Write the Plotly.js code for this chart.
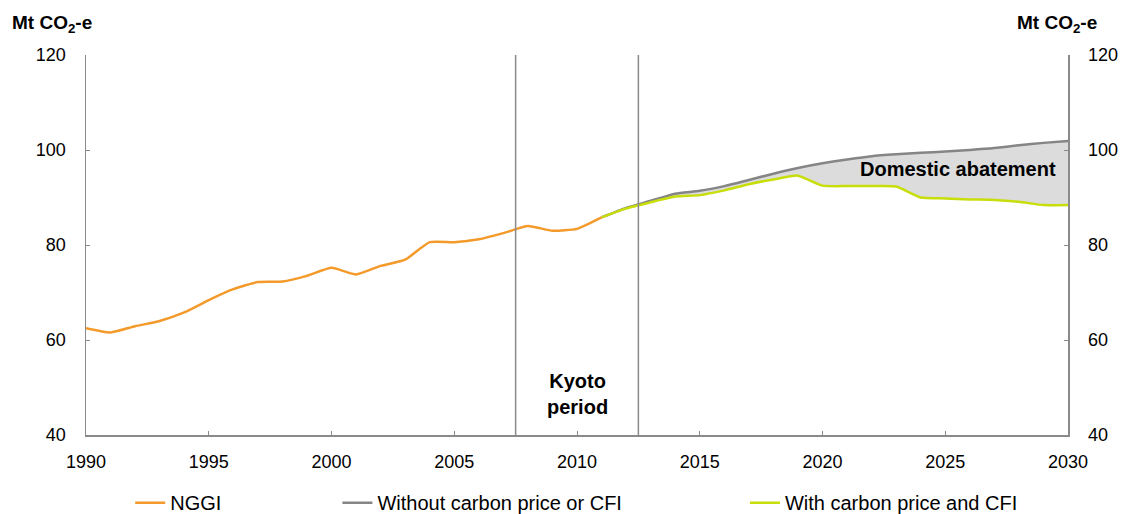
<!DOCTYPE html>
<html>
<head>
<meta charset="utf-8">
<script src="https://cdn.plot.ly/plotly-3.0.1.min.js"></script>
<style>html,body{margin:0;padding:0;background:#fff;}#chart{width:1123px;height:514px;}</style>
</head>
<body>
<div id="chart"></div>
<script>
const nggiYears = [1990,1991,1992,1993,1994,1995,1996,1997,1998,1999,2000,2001,2002,2003,2004,2005,2006,2007,2008,2009,2010,2011];
const nggiValues = [62.5,61.6,62.9,64.0,65.8,68.4,70.7,72.2,72.3,73.5,75.2,73.8,75.6,76.9,80.6,80.6,81.2,82.5,84.0,83.0,83.4,85.8];
const projYears = [2011,2012,2013,2014,2015,2016,2017,2018,2019,2020,2021,2022,2023,2024,2025,2026,2027,2028,2029,2030];
const withoutValues = [85.8,87.8,89.3,90.8,91.4,92.4,93.7,95.0,96.2,97.2,98.0,98.7,99.1,99.4,99.7,100.0,100.4,101.0,101.5,101.9];
const withValues = [85.8,87.7,89.0,90.2,90.5,91.5,92.8,93.8,94.6,92.5,92.4,92.4,92.3,90.0,89.8,89.6,89.5,89.1,88.4,88.4];
const xTicks = [1990,1995,2000,2005,2010,2015,2020,2025,2030];
const yTicks = [40,60,80,100,120];
const kyotoBounds = [2007.5, 2012.5];

const cOrange = '#F39A2B', cGrey = '#858585', cGreen = '#C8DE0A', cFill = '#DCDCDC';
const sm = 0.5;

const traces = [
  {x: projYears, y: withValues, mode:'lines', line:{width:0, color:cFill, shape:'spline', smoothing:sm}, showlegend:false, hoverinfo:'skip'},
  {x: projYears, y: withoutValues, mode:'lines', line:{width:0, color:cFill, shape:'spline', smoothing:sm}, fill:'tonexty', fillcolor:cFill, showlegend:false, hoverinfo:'skip'},
  {x: projYears, y: withoutValues, mode:'lines', name:'Without carbon price or CFI', line:{color:cGrey, width:2.5, shape:'spline', smoothing:sm}, legend:'legend2'},
  {x: projYears, y: withValues, mode:'lines', name:'With carbon price and CFI', line:{color:cGreen, width:2.5, shape:'spline', smoothing:sm}, legend:'legend3'},
  {x: nggiYears, y: nggiValues, mode:'lines', name:'NGGI', line:{color:cOrange, width:2.5, shape:'spline', smoothing:sm}, legend:'legend'},
  {x: [2030], y: [null], yaxis:'y2', mode:'lines', showlegend:false, hoverinfo:'skip'}
];

const ff = 'Liberation Sans, Arial, sans-serif';
const legBase = {orientation:'h', yanchor:'middle', y:-0.178, xanchor:'left', font:{family:ff, size:20, color:'#000'}, bgcolor:'rgba(0,0,0,0)'};
const axLine = {showgrid:false, zeroline:false, showline:true, linecolor:'#8a8a8a', linewidth:1.5,
                ticks:'inside', ticklen:4, tickcolor:'#8a8a8a', tickfont:{family:ff, size:18, color:'#000'}};

const layout = {
  width:1123, height:514,
  margin:{l:86, r:55, t:55, b:79, autoexpand:false},
  paper_bgcolor:'#fff', plot_bgcolor:'#fff',
  font: {family:ff, size:18, color:'#000'},
  showlegend:true,
  legend: Object.assign({}, legBase, {x:0.045}),
  legend2: Object.assign({}, legBase, {x:0.256}),
  legend3: Object.assign({}, legBase, {x:0.671}),
  xaxis: Object.assign({range:[1990,2030], tickvals:xTicks, ticktext:xTicks.map(String), ticklabelstandoff:10, automargin:false}, axLine),
  yaxis: Object.assign({range:[40,120], tickvals:yTicks, ticklabelstandoff:15, automargin:false}, axLine),
  yaxis2: Object.assign({range:[40,120], tickvals:yTicks, overlaying:'y', side:'right', ticklabelstandoff:15, automargin:false}, axLine),
  shapes: kyotoBounds.map(v => ({type:'line', xref:'x', yref:'paper', x0:v, x1:v, y0:0, y1:1, line:{color:'#8a8a8a', width:1.5}})),
  annotations:[
    {xref:'paper', yref:'paper', x:-0.0776, y:1.0, yshift:31, xanchor:'left', yanchor:'middle', showarrow:false,
     text:'<b>Mt CO<sub>2</sub>-e</b>', font:{family:ff, size:19}},
    {xref:'paper', yref:'paper', x:1.0315, y:1.0, yshift:31, xanchor:'right', yanchor:'middle', showarrow:false,
     text:'<b>Mt CO<sub>2</sub>-e</b>', font:{family:ff, size:19}},
    {xref:'x', yref:'y', x:2010, y:48.6, xanchor:'center', yanchor:'middle', showarrow:false,
     text:'<b>Kyoto<br>period</b>', font:{family:ff, size:20}},
    {xref:'x', yref:'y', x:2025.5, y:96.0, xanchor:'center', yanchor:'middle', showarrow:false,
     text:'<b>Domestic abatement</b>', font:{family:ff, size:20}}
  ]
};

Plotly.newPlot('chart', traces, layout, {displayModeBar:false, staticPlot:true});
</script>
</body>
</html>
